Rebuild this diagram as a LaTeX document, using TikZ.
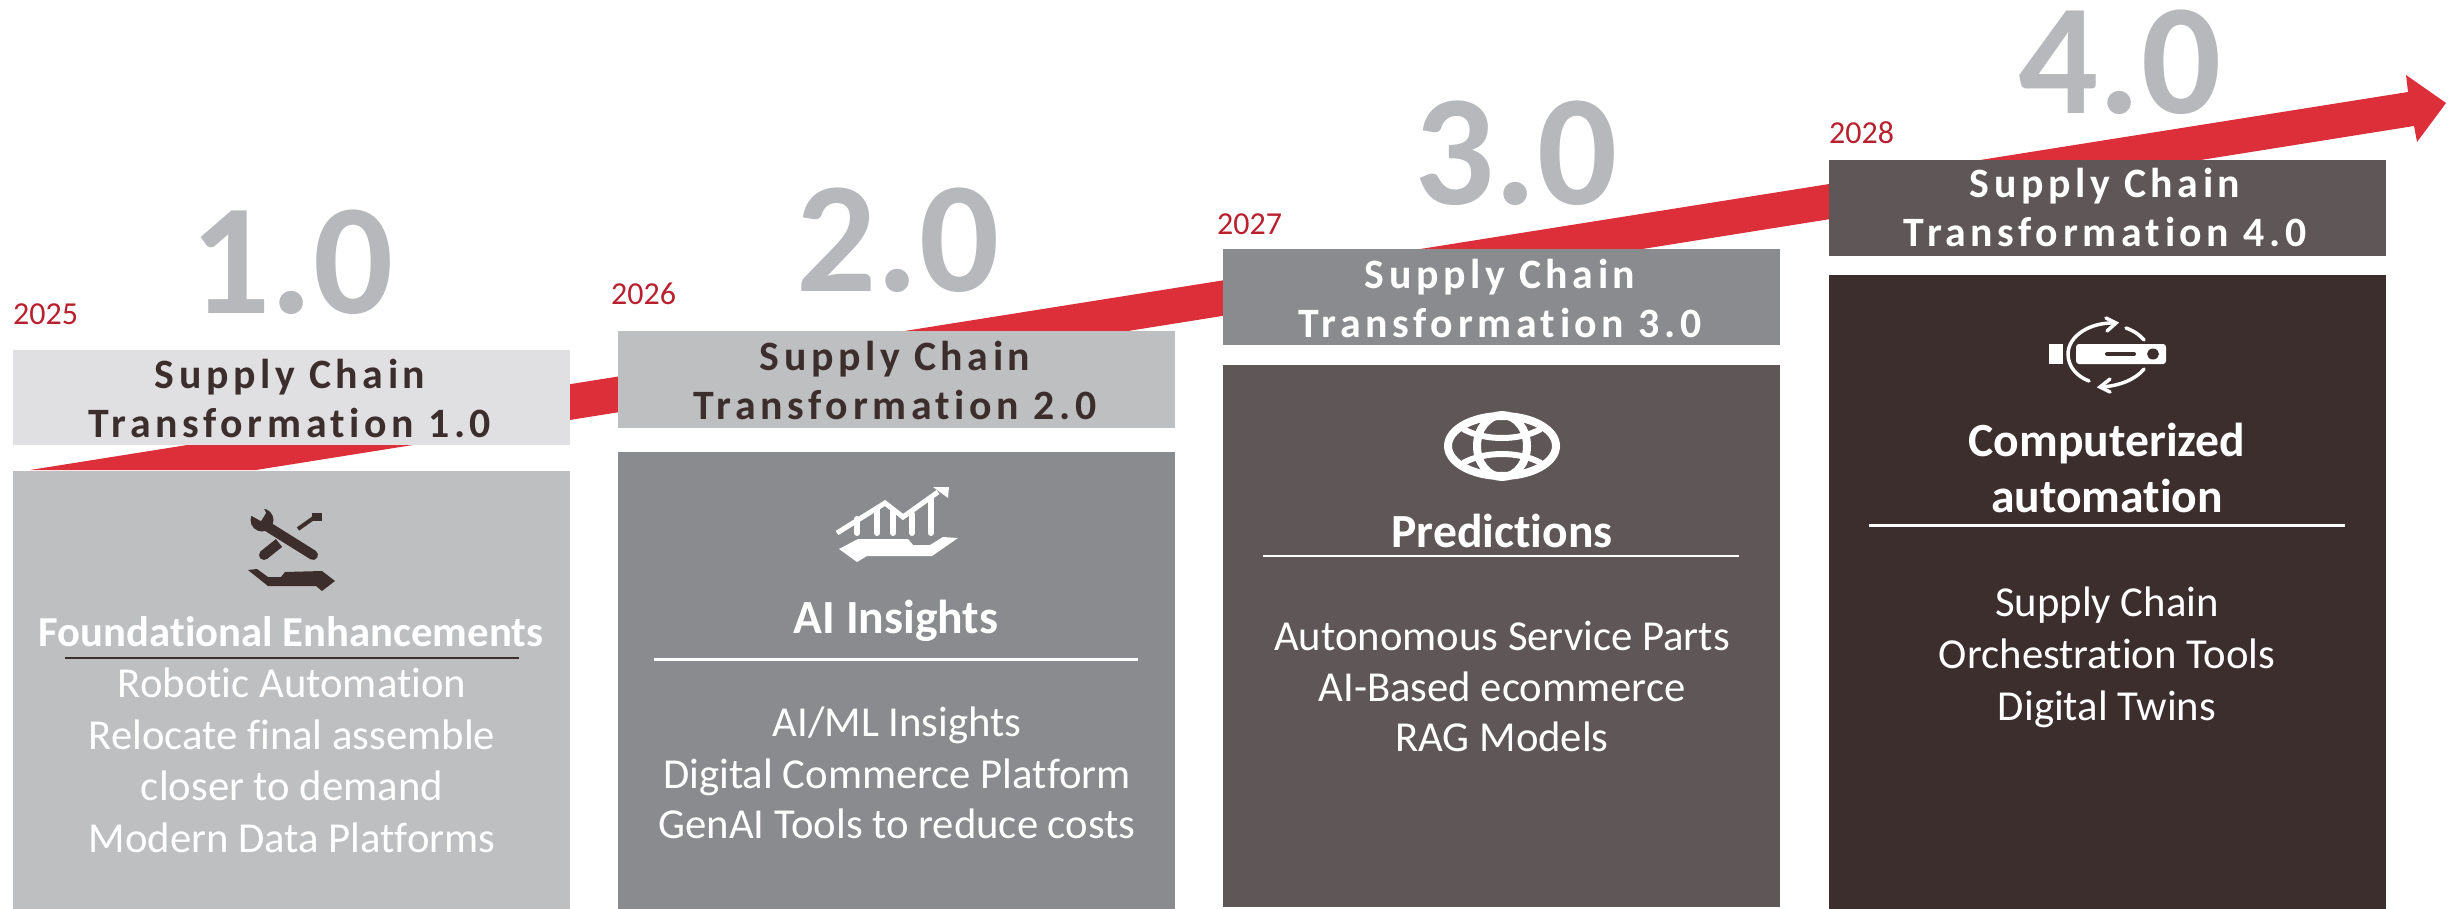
\documentclass[tikz,border=0pt]{standalone}
\usepackage{fontspec}
\setmainfont[Ligatures=NoCommon]{Carlito}
\newfontfamily\spaced[LetterSpace=11,Ligatures=NoCommon]{Carlito}
\definecolor{redA}{HTML}{DC2F3A}
\definecolor{redY}{HTML}{B8202F}
\definecolor{numG}{HTML}{B7B8BB}
\definecolor{headA}{HTML}{E0E0E2}
\definecolor{bodyA}{HTML}{BEBFC1}
\definecolor{bodyB}{HTML}{898B8E}
\definecolor{bodyC}{HTML}{5E5657}
\definecolor{bodyD}{HTML}{3D2E2E}
\newcommand{\hdsize}{\fontsize{41.8}{50}\selectfont}
\newcommand{\txsize}{\fontsize{42.7}{51}\selectfont}
\tikzset{
  bignum/.style={anchor=base,text=numG,inner sep=0pt,font=\fontsize{158}{158}\selectfont\bfseries},
  yearlbl/.style={anchor=base west,text=redY,inner sep=0pt,font=\fontsize{32}{32}\selectfont},
  hdtext/.style={anchor=base,inner sep=0pt,font=\hdsize\spaced\bfseries},
  bodytext/.style={anchor=base,inner sep=0pt,text=white,font=\txsize},
  bodyhead/.style={anchor=base,inner sep=0pt,text=white,font=\fontsize{47.6}{50}\selectfont\bfseries},
  rulewhite/.style={draw=white,line width=2.5pt},
  ruledark/.style={draw=bodyD,line width=2.5pt},
}
\begin{document}
\begin{tikzpicture}[x=1pt,y=-1pt]
\useasboundingbox (0,0) rectangle (2448,909);
% arrow
\fill[redA] (30,470) -- (2408,92) -- (2406,75) -- (2446,103) -- (2417,142) -- (2414,126) -- (256,470) -- cycle;
% panels
\fill[headA] (13,350) rectangle (570,445);
\fill[bodyA] (13,471) rectangle (570,909);
\fill[bodyA] (618,331) rectangle (1175,428);
\fill[bodyB] (618,452) rectangle (1175,909);
\fill[bodyB] (1223,249) rectangle (1780,345);
\fill[bodyC] (1223,365) rectangle (1780,907);
\fill[bodyC] (1829,160) rectangle (2386,256);
\fill[bodyD] (1829,275) rectangle (2386,909);
% big numbers
\node[bignum] (numA) at (292,313) {1.0};
\node[bignum] (numB) at (898,291) {2.0};
\node[bignum] (numC) at (1516,205) {3.0};
\node[bignum] (numD) at (2120,114) {4.0};
% years
\node[yearlbl] (yearA) at (13,324) {2025};
\node[yearlbl] (yearB) at (611,304) {2026};
\node[yearlbl] (yearC) at (1217,235) {2027};
\node[yearlbl] (yearD) at (1829,144) {2028};
% headers
\node[hdtext,text=bodyD] (hA1) at (290,388) {Supply Chain};
\node[hdtext,text=bodyD] (hA2) at (290,437) {Transformation 1.0};
\node[hdtext,text=bodyD] (hB1) at (895,370) {Supply Chain};
\node[hdtext,text=bodyD] (hB2) at (895,419) {Transformation 2.0};
\node[hdtext,text=white] (hC1) at (1500,288) {Supply Chain};
\node[hdtext,text=white] (hC2) at (1500,337) {Transformation 3.0};
\node[hdtext,text=white] (hD1) at (2105,198) {Supply Chain};
\node[hdtext,text=white] (hD2) at (2105,247) {Transformation 4.0};
% body 1
\node[bodyhead,font=\fontsize{42.7}{50}\selectfont\bfseries] (tA0) at (291,646) {Foundational Enhancements};
\draw[ruledark] (65,658) -- (519,658);
\node[bodytext] (tA1) at (292,697) {Robotic Automation};
\node[bodytext] (tA2) at (292,749) {Relocate final assemble};
\node[bodytext] (tA3) at (292,800) {closer to demand};
\node[bodytext] (tA4) at (292,852) {Modern Data Platforms};
% body 2
\node[bodyhead] (tB0) at (896,633) {AI Insights};
\draw[rulewhite] (654,659.5) -- (1138,659.5);
\node[bodytext] (tB1) at (897,736) {AI/ML Insights};
\node[bodytext] (tB2) at (897,788) {Digital Commerce Platform};
\node[bodytext] (tB3) at (897,838) {GenAI Tools to reduce costs};
% body 3
\node[bodyhead] (tC0) at (1502,547) {Predictions};
\draw[rulewhite] (1263,556) -- (1739,556);
\node[bodytext] (tC1) at (1502,650) {Autonomous Service Parts};
\node[bodytext] (tC2) at (1502,701) {AI-Based ecommerce};
\node[bodytext] (tC3) at (1502,751) {RAG Models};
% body 4
\node[bodyhead] (tD0) at (2107,456) {Computerized};
\node[bodyhead] (tD1) at (2107,512) {automation};
\draw[rulewhite] (1869,525.5) -- (2345,525.5);
\node[bodytext] (tD2) at (2107,616) {Supply Chain};
\node[bodytext] (tD3) at (2107,668) {Orchestration Tools};
\node[bodytext] (tD4) at (2107,720) {Digital Twins};
% icon 1: tools and hand
\begin{scope}[bodyD]
\draw[line width=10pt,line cap=round] (265,525) -- (313,555);
\fill (262,520) circle[radius=11.5];
\fill[bodyA] (250,515) -- (261,521) -- (266,513) -- (262,505) -- (248,505) -- cycle;
\draw[line width=4pt] (298,529) -- (315,517);
\fill (312,513) rectangle (322,521);
\draw[line width=10pt,line cap=butt] (264,555) -- (279,543);
\fill (264,555) circle[radius=5];
\fill (248,570) -- (257,569) -- (268,577) -- (281,577) -- (285,572) -- (322,571) -- (335,581) -- (322,591) -- (316,586) -- (268,586) -- cycle;
\end{scope}
% icon 2: chart and hand
\begin{scope}[white]
\draw[line width=5pt,line join=miter] (837,533) -- (885,503) -- (903,517) -- (938,492);
\fill (933,487) -- (949,487) -- (948,498) -- cycle;
\foreach \bx/\by in {857/519,877/510,893/510,912/514,931/498}
  \draw[line width=6pt,line cap=round] (\bx,\by) -- (\bx,533);
\fill (839,549) -- (858,539) -- (908,539) -- (913,545) -- (930,545) -- (943,537) -- (958,538) -- (932,556) -- (867,556) -- (857,562) -- cycle;
\end{scope}
% icon 3: globe
\begin{scope}[white,line width=8pt]
\draw (1502,446) ellipse[x radius=54,y radius=30];
\draw (1502,446) ellipse[x radius=25,y radius=31];
\draw[line width=6pt] (1463,429) .. controls (1485,441) and (1519,441) .. (1541,429);
\draw[line width=6pt] (1463,463) .. controls (1485,451) and (1519,451) .. (1541,463);
\end{scope}
% icon 4: cycle and bar
\begin{scope}[white]
\fill (2049,344) rectangle (2063,364);
\fill[rounded corners=3pt] (2076,344) rectangle (2166,364);
\draw[bodyD,line width=4pt,line cap=round] (2107,354) -- (2134,354);
\fill[bodyD] (2153,354) ellipse[x radius=6,y radius=5.5];
\draw[line width=3.5pt,line cap=round] (2115,323) .. controls (2090,322) and (2068,336) .. (2068,354) .. controls (2068,366) and (2076,376) .. (2089,381);
\draw[line width=3.5pt,line cap=round] (2126,328) .. controls (2134,331) and (2140,335) .. (2144,340);
\draw[line width=3.5pt,line cap=round] (2144,369) .. controls (2136,379) and (2120,386) .. (2101,387);
\draw[line width=3.5pt,line cap=round,line join=miter] (2106,318) -- (2116,323) -- (2107,331);
\draw[line width=3.5pt,line cap=round,line join=miter] (2110,379) -- (2100,387) -- (2110,392);
\end{scope}
\end{tikzpicture}
\end{document}
